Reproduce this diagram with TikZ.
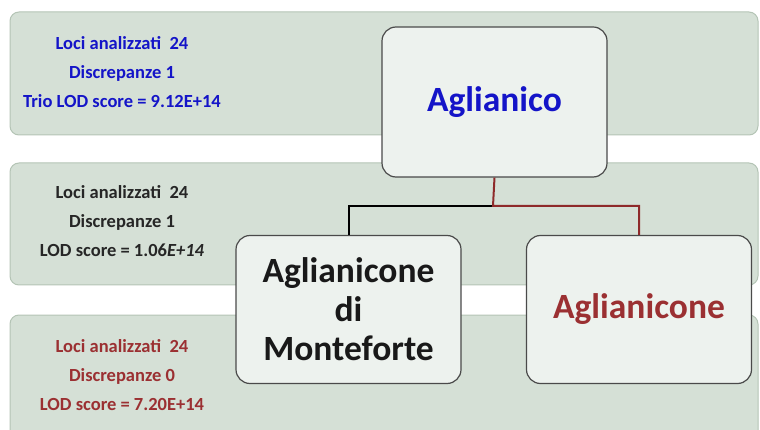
\documentclass[tikz,border=0pt]{standalone}
\usepackage{fontspec}
\setmainfont{Carlito}
\definecolor{bandfill}{HTML}{D5E0D6}
\definecolor{bandline}{HTML}{B4C4B5}
\definecolor{boxfill}{HTML}{EDF2EE}
\definecolor{boxline}{HTML}{4A4A4A}
\definecolor{textblue}{HTML}{1414C8}
\definecolor{textred}{HTML}{9B3032}
\definecolor{linkred}{HTML}{8E2A2A}
\tikzset{
  band/.style={draw=bandline, fill=bandfill, rounded corners=9pt, line width=1pt},
  bigbox/.style={draw=boxline, fill=boxfill, rounded corners=14pt, line width=1.2pt,
    minimum width=225pt, minimum height=148pt, align=center,
    font=\bfseries\fontsize{35.5}{39}\selectfont},
  info/.style={align=center, font=\bfseries\fontsize{18.5}{29}\selectfont},
  link/.style={line width=2pt}
}
\begin{document}
\begin{tikzpicture}  % ------ Aglianico, Aglianicone, Aglianicone di Monteforte ------
      [x=1pt,y=-1pt]
    \useasboundingbox (0,0) rectangle (760,430);
    \clip (0,0) rectangle (760,430);

    \coordinate (J) at (493,206);

    % les bandes
    \draw[band] (10,12) rectangle (758,135);
    \draw[band] (10,163) rectangle (758,285);
    \draw[band] (10,315) rectangle (758,450);

    \node[info, text=textblue] (T1) at (122,72)
      {Loci analizzati\ \ 24\\Discrepanze\ 1\\Trio LOD score = 9.12E+14};
    \node[info, text=black!85] (T2) at (122,221)
      {Loci analizzati\ \ 24\\Discrepanze\ 1\\LOD score = 1.06\textit{E+14}};
    \node[info, text=textred] (T3) at (122,375)
      {Loci analizzati\ \ 24\\Discrepanze\ 0\\LOD score = 7.20E+14};

    % les boites
    \node[bigbox, minimum height=150pt, text=textblue] (AG) at (494.5,102) {Aglianico};
    \node[bigbox, text=black!90] (MO) at (348.5,309.5) {Aglianicone\\di\\Monteforte};
    \node[bigbox, text=textred] (AC) at (639,309.5) {Aglianicone};

    \draw[link, black] (J) -| (MO.north);
    \draw[link, linkred] (AG.south) -- (J) -| (AC.north);
\end{tikzpicture}
\end{document}
